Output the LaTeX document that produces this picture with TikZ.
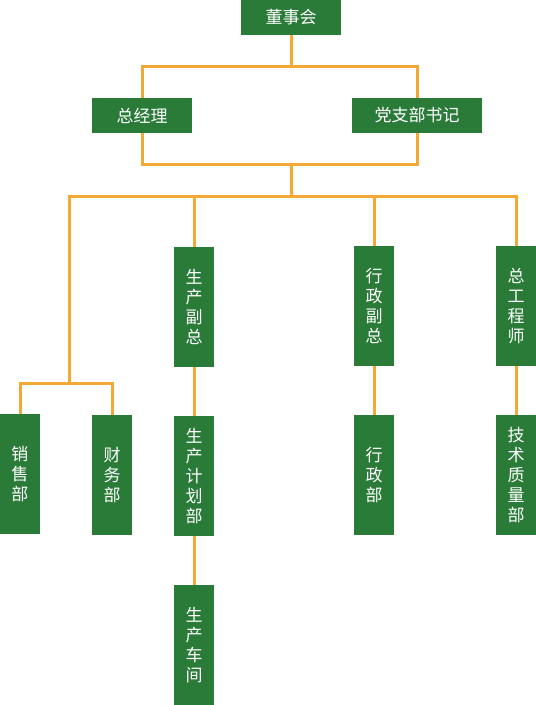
\documentclass[tikz,border=0pt]{standalone}
\usepackage{fontspec}
\newfontfamily\cjk{Noto Sans CJK SC}
\definecolor{boxgreen}{RGB}{42,122,56}
\definecolor{lineorange}{RGB}{244,169,52}
\begin{document}
\begin{tikzpicture}[x=1pt,y=-1pt,
  hbox/.style={fill=boxgreen,text=white,minimum height=35pt,inner sep=0pt,
    font=\cjk\fontsize{17}{20}\selectfont},
  vbox/.style={fill=boxgreen,text=white,minimum width=40pt,minimum height=120pt,inner sep=0pt,
    align=center,font=\cjk\fontsize{17}{20}\selectfont},
  conn/.style={draw=lineorange,line width=3pt}]
\useasboundingbox (0,0) rectangle (536,705);
\node[hbox,minimum width=100pt] (dsh) at (291,17.5) {董事会};
\node[hbox,minimum width=100pt] (zjl) at (142,115.5) {总经理};
\node[hbox,minimum width=130pt] (dzb) at (417,115.5) {党支部书记};
\node[vbox] (scfz) at (194,307) {生\\产\\副\\总};
\node[vbox] (xzfz) at (374,306) {行\\政\\副\\总};
\node[vbox] (zgcs) at (516,306) {总\\工\\程\\师};
\node[vbox] (xsb) at (20,474) {销\\售\\部};
\node[vbox] (cwb) at (112,475) {财\\务\\部};
\node[vbox] (scjhb) at (194,476) {生\\产\\计\\划\\部};
\node[vbox] (xzb) at (374,475) {行\\政\\部};
\node[vbox] (jszlb) at (516,475) {技\\术\\质\\量\\部};
\node[vbox] (sccj) at (194,645) {生\\产\\车\\间};
\coordinate (b1) at (291,66);
\coordinate (b2) at (291,164);
\coordinate (b3) at (291,196);
\coordinate (b4) at (69,383);
\draw[conn] (dsh.south) -- (b1);
\draw[conn] (zjl.north) |- (b1) -| (dzb.north);
\draw[conn] (zjl.south) |- (b2) -| (dzb.south);
\draw[conn] (b2) -- (b3);
\draw[conn] (b3) -| (b4);
\draw[conn] (xsb.north) |- (b4) -| (cwb.north);
\draw[conn] (b3) -| (scfz.north);
\draw[conn] (b3) -| (xzfz.north);
\draw[conn] (b3) -| (zgcs.north);
\draw[conn] (scfz) -- (scjhb);
\draw[conn] (scjhb) -- (sccj);
\draw[conn] (xzfz) -- (xzb);
\draw[conn] (zgcs) -- (jszlb);
\end{tikzpicture}
\end{document}
